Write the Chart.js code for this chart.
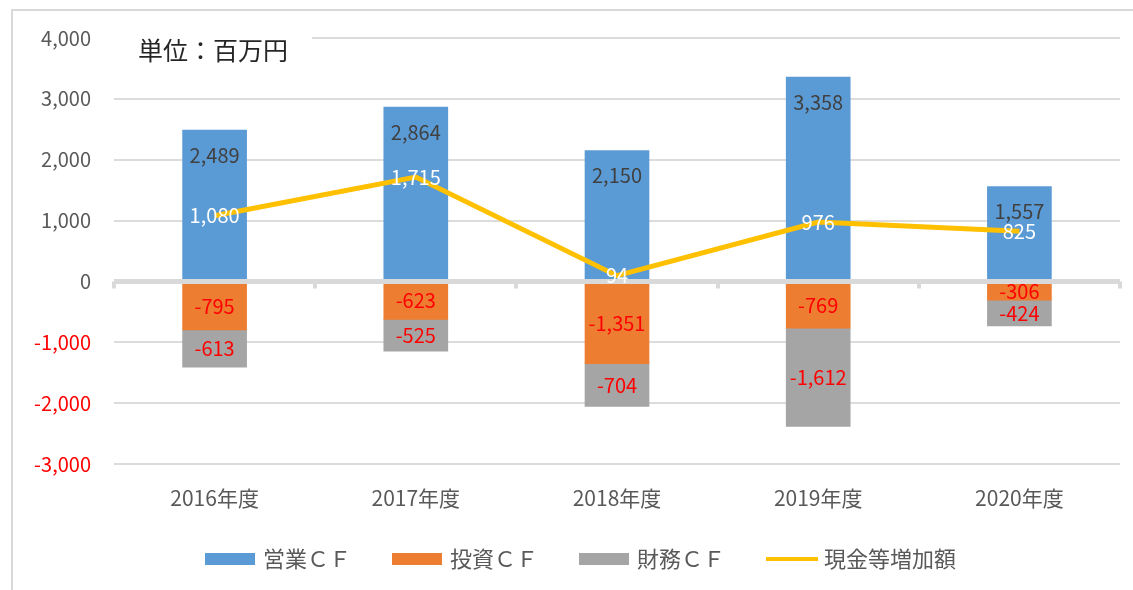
<!DOCTYPE html>
<html>
<head>
<meta charset="utf-8">
<script src="https://cdn.jsdelivr.net/npm/chart.js@4"></script>
<style>
  html, body { margin: 0; padding: 0; background: #ffffff; }
  #wrap { width: 1133px; height: 590px; }
</style>
</head>
<body>
<div id="wrap"><canvas id="cfChart" width="1133" height="590"></canvas></div>
<script>
const years = ["2016年度", "2017年度", "2018年度", "2019年度", "2020年度"];
const operatingCF = [2489, 2864, 2150, 3358, 1557];
const investingCF = [-795, -623, -1351, -769, -306];
const financingCF = [-613, -525, -704, -1612, -424];
const cashIncrease = [1080, 1715, 94, 976, 825];
const yTicks = [-3000, -2000, -1000, 0, 1000, 2000, 3000, 4000];
const unitLabel = "単位：百万円";

const FONT = "'Noto Sans CJK JP', 'Noto Sans', sans-serif";
const COLORS = {
    blue: "#5B9BD5",
    orange: "#ED7D31",
    gray: "#A5A5A5",
    yellow: "#FFC000",
    grid: "#DCDCDC",
    text: "#595959",
    red: "#FF0000",
};

const fmt = (v) => Number(v).toLocaleString("en-US");

// frame + unit box
const framePlugin = {
    id: "frame",
    beforeDraw(chart) {
        const ctx = chart.ctx;
        ctx.save();
        ctx.strokeStyle = "#D9D9D9";
        ctx.lineWidth = 2;
        ctx.beginPath();
        ctx.moveTo(12, 590);
        ctx.lineTo(12, 10);
        ctx.lineTo(1133, 10);
        ctx.stroke();
        ctx.restore();
    },
    beforeDatasetsDraw(chart) {
        const ctx = chart.ctx;
        const area = chart.chartArea;
        ctx.save();
        ctx.fillStyle = "#ffffff";
        ctx.fillRect(area.left, area.top - 10, 198, 36);
        ctx.fillStyle = "#262626";
        ctx.font = "25px " + FONT;
        ctx.textBaseline = "middle";
        ctx.textAlign = "left";
        ctx.fillText(unitLabel, 138, 50);
        ctx.restore();
    },
};

// thick zero axis drawn over bars, under line
const zeroAxisPlugin = {
    id: "zeroAxis",
    beforeDatasetDraw(chart, args) {
        if (args.index !== 3) return;
        const ctx = chart.ctx;
        const y0 = chart.scales.y.getPixelForValue(0);
        const left = chart.chartArea.left;
        const right = chart.chartArea.right;
        const step = (right - left) / years.length;
        ctx.save();
        ctx.strokeStyle = "#D9D9D9";
        ctx.lineWidth = 5;
        ctx.beginPath();
        ctx.moveTo(left, y0);
        ctx.lineTo(right, y0);
        ctx.stroke();
        ctx.lineWidth = 4;
        ctx.beginPath();
        for (let i = 0; i <= years.length; i++) {
            const px = Math.round(left + step * i);
            ctx.moveTo(px, y0);
            ctx.lineTo(px, y0 + 7);
        }
        ctx.stroke();
        ctx.restore();
    },
};

const labelPlugin = {
    id: "valueLabels",
    afterDatasetsDraw(chart) {
        const ctx = chart.ctx;
        ctx.save();
        ctx.font = "20px " + FONT;
        ctx.textAlign = "center";
        ctx.textBaseline = "middle";
        chart.data.datasets.forEach((ds, di) => {
            const meta = chart.getDatasetMeta(di);
            meta.data.forEach((el, i) => {
                const v = ds.data[i];
                let py;
                if (ds.type === "line") {
                    ctx.fillStyle = "#ffffff";
                    py = el.y;
                } else if (v >= 0) {
                    ctx.fillStyle = "#404040";
                    py = el.y + 25;
                } else {
                    ctx.fillStyle = COLORS.red;
                    py = (el.y + el.base) / 2;
                }
                ctx.fillText(fmt(v), el.x, py);
            });
        });
        ctx.restore();
    },
};

const legendPlugin = {
    id: "customLegend",
    afterDraw(chart) {
        const ctx = chart.ctx;
        const y = 559;
        let x = 205;
        ctx.save();
        ctx.font = "22px " + FONT;
        ctx.textBaseline = "middle";
        ctx.textAlign = "left";
        chart.data.datasets.forEach((ds) => {
            if (ds.type === "line") {
                ctx.strokeStyle = ds.borderColor;
                ctx.lineWidth = 4;
                ctx.beginPath();
                ctx.moveTo(x, y);
                ctx.lineTo(x + 52, y);
                ctx.stroke();
            } else {
                ctx.fillStyle = ds.backgroundColor;
                ctx.fillRect(x, y - 6, 50, 12);
            }
            x += 58;
            ctx.fillStyle = COLORS.text;
            ctx.fillText(ds.label, x, y);
            x += ctx.measureText(ds.label).width + 41;
        });
        ctx.restore();
    },
};

new Chart(document.getElementById("cfChart"), {
    data: {
        labels: years,
        datasets: [
            {
                type: "bar",
                label: "営業ＣＦ",
                data: operatingCF,
                backgroundColor: COLORS.blue,
                stack: "cf",
                barThickness: 64,
            },
            {
                type: "bar",
                label: "投資ＣＦ",
                data: investingCF,
                backgroundColor: COLORS.orange,
                stack: "cf",
                barThickness: 64,
            },
            {
                type: "bar",
                label: "財務ＣＦ",
                data: financingCF,
                backgroundColor: COLORS.gray,
                stack: "cf",
                barThickness: 64,
            },
            {
                type: "line",
                label: "現金等増加額",
                data: cashIncrease,
                borderColor: COLORS.yellow,
                backgroundColor: COLORS.yellow,
                borderWidth: 5,
                pointRadius: 0,
                tension: 0,
                fill: false,
                stack: "line",
                order: -1,
            },
        ],
    },
    plugins: [framePlugin, zeroAxisPlugin, labelPlugin, legendPlugin],
    options: {
        responsive: false,
        animation: false,
        devicePixelRatio: 1,
        layout: {
            padding: { top: 38, right: 13, bottom: 64, left: 0 },
        },
        plugins: {
            legend: { display: false },
            tooltip: { enabled: false },
        },
        scales: {
            x: {
                stacked: true,
                border: { display: false },
                grid: { display: false, drawTicks: false },
                ticks: {
                    color: COLORS.text,
                    padding: 21,
                    font: { family: FONT, size: 21 },
                },
                afterFit(scale) {
                    scale.height = 62;
                },
            },
            y: {
                stacked: true,
                min: -3000,
                max: 4000,
                border: { display: false },
                grid: {
                    drawTicks: false,
                    lineWidth: 2,
                    color: (c) => (c.tick && c.tick.value === 0 ? "rgba(0,0,0,0)" : COLORS.grid),
                },
                afterBuildTicks(scale) {
                    scale.ticks = yTicks.map((v) => ({ value: v }));
                },
                ticks: {
                    padding: 23,
                    font: { family: FONT, size: 20 },
                    color: (c) => (c.tick && c.tick.value < 0 ? COLORS.red : COLORS.text),
                    callback: (v) => fmt(v),
                },
                afterFit(scale) {
                    scale.width = 114;
                },
            },
        },
    },
});
</script>
</body>
</html>
